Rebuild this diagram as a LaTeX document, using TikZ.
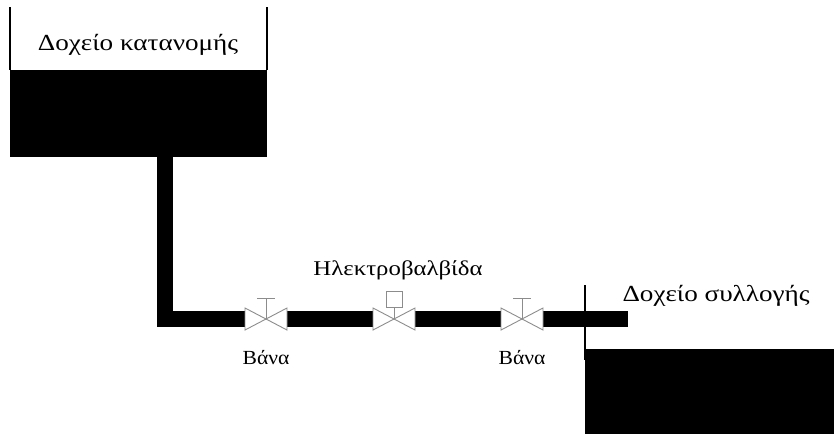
\documentclass[tikz,border=0pt]{standalone}
\usepackage{fontspec}
\setmainfont[FakeStretch=1.18]{Liberation Serif}
\newfontfamily\narrowserif[FakeStretch=1.08]{Liberation Serif}
\begin{document}
\begin{tikzpicture}[x=1pt,y=-1pt,
  wall/.style={line width=1.6pt,black},
  pipe/.style={line width=16pt,black,line join=miter},
  vbody/.style={fill=white,draw=black!45,line width=0.9pt,line join=miter},
  vstem/.style={draw=black!45,line width=0.9pt},
  lbl/.style={inner sep=0pt,font=\fontsize{23}{27}\selectfont},
  mlbl/.style={inner sep=0pt,font=\fontsize{21}{25}\selectfont},
  slbl/.style={inner sep=0pt,font=\narrowserif\fontsize{20}{24}\selectfont},
  pics/manvalve/.style={code={
    \fill[white] (-21,-9) rectangle (21,9);
    \path[vbody] (-21,-11) -- (-21,11) -- (0,0) -- cycle;
    \path[vbody] (21,-11) -- (21,11) -- (0,0) -- cycle;
    \draw[vstem] (0,0) -- (0,-21);
    \draw[vstem] (-9,-21) -- (9,-21);
  }},
  pics/solvalve/.style={code={
    \fill[white] (-21,-9) rectangle (21,9);
    \path[vbody] (-21,-11) -- (-21,11) -- (0,0) -- cycle;
    \path[vbody] (21,-11) -- (21,11) -- (0,0) -- cycle;
    \draw[vstem] (0,0) -- (0,-12);
    \draw[vstem,fill=white] (-8,-12) rectangle (8,-28);
  }}]
\useasboundingbox (0,0) rectangle (834,434);
% distribution tank
\fill[black] (10,70) rectangle (267,157);
\draw[wall] (10,7) -- (10,70);
\draw[wall] (267,7) -- (267,70);
\node[lbl] (tank1) at (138,45) {Δοχείο κατανομής};
% pipe
\coordinate (pstart) at (165,150);
\coordinate (pcorner) at (165,319);
\coordinate (pend) at (628,319);
\draw[pipe] (pstart) -- (pcorner) -- (pend);
% valves
\coordinate (v1) at (266,319);
\coordinate (v2) at (394,319);
\coordinate (v3) at (522,319);
\pic at (v1) {manvalve};
\pic at (v2) {solvalve};
\pic at (v3) {manvalve};
\node[slbl] (l1) at (266,358) {Βάνα};
\node[mlbl] (l2) at (398,270) {Ηλεκτροβαλβίδα};
\node[slbl] (l3) at (522,358) {Βάνα};
% collecting tank
\fill[black] (585,349) rectangle (834,434);
\draw[wall] (585,285) -- (585,360);
\node[lbl] (tank2) at (716,296) {Δοχείο συλλογής};
\end{tikzpicture}
\end{document}
